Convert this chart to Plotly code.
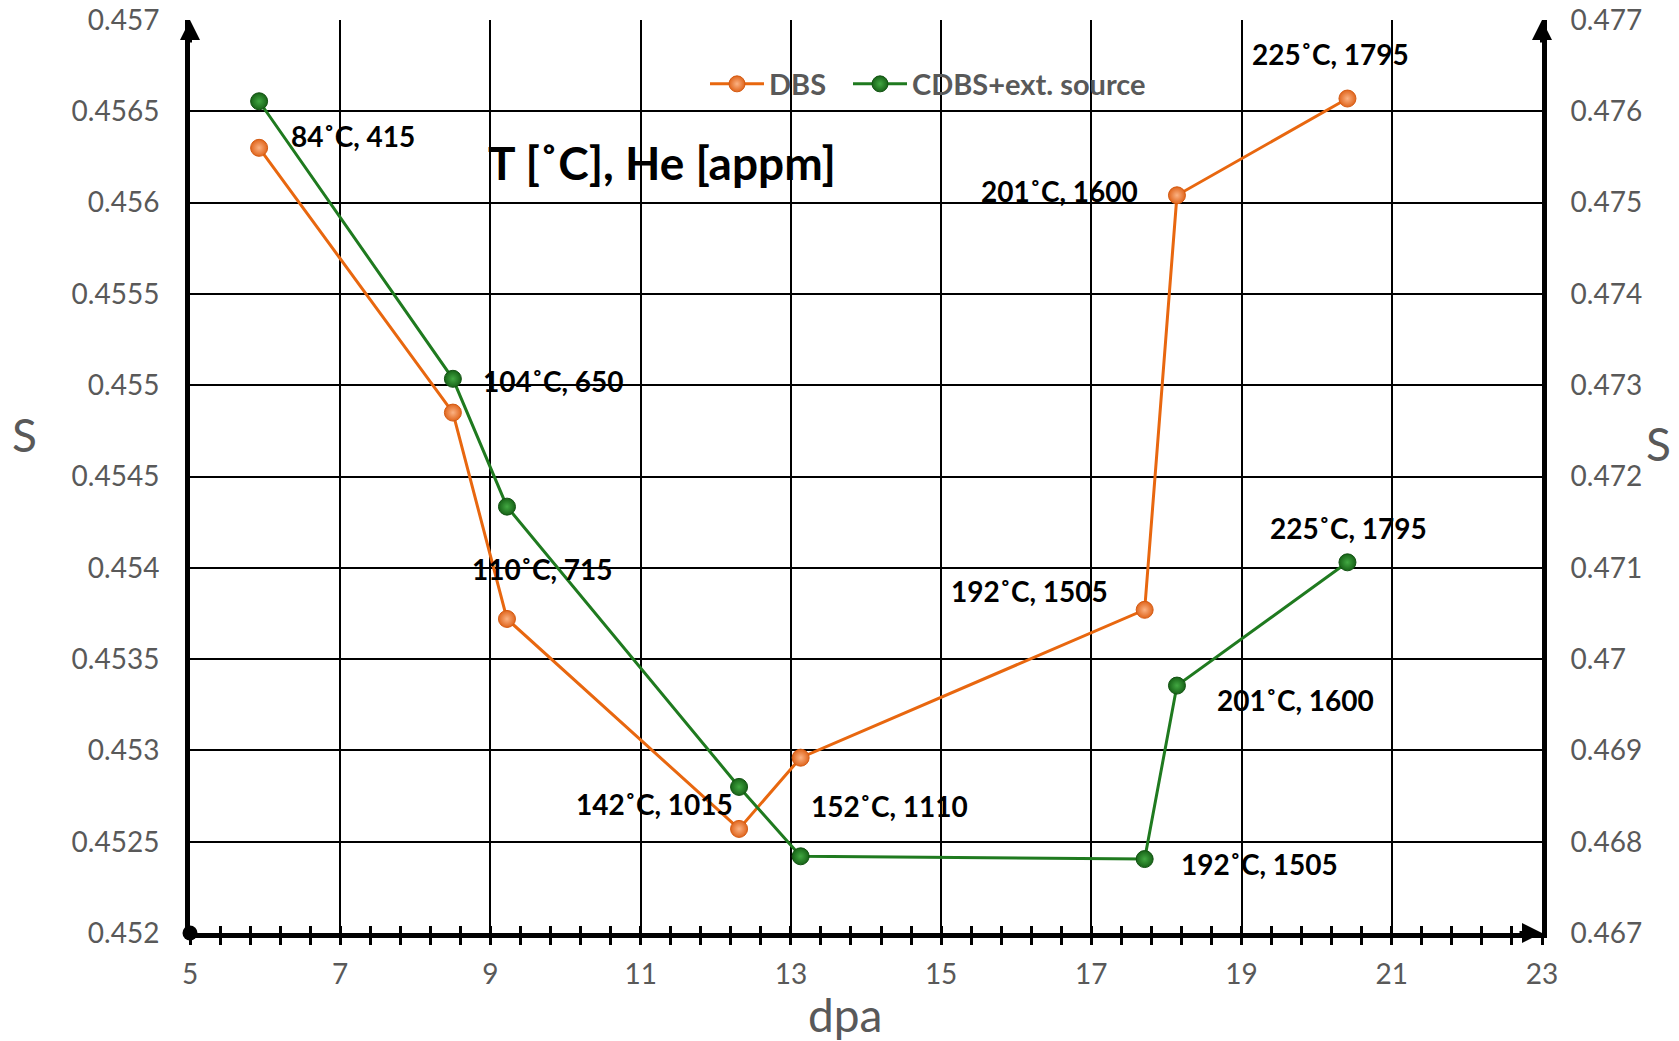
import plotly.graph_objects as go

# ---------------- data ----------------
dpa = [5.92, 8.50, 9.22, 12.31, 13.13, 17.71, 18.14, 20.41]
s_dbs = [0.45630, 0.45485, 0.45372, 0.45257, 0.45296, 0.45377, 0.45604, 0.45657]
s_cdbs = [0.47611, 0.47307, 0.47167, 0.46860, 0.46784, 0.46781, 0.46971, 0.47106]
temp_c = [84, 104, 110, 142, 152, 192, 201, 225]
he_appm = [415, 650, 715, 1015, 1110, 1505, 1600, 1795]
series_names = ["DBS", "CDBS+ext. source"]

# label placement: (series, point index, xanchor, xshift px, yshift px)
label_place = [
    ("cdbs", 0, "left", 30, -35),
    ("cdbs", 1, "left", 28, -2),
    ("dbs", 2, "left", -37, 50),
    ("dbs", 3, "right", -4, 25),
    ("cdbs", 4, "left", 8, 50),
    ("dbs", 5, "right", -35, 19),
    ("dbs", 6, "right", -37, 4),
    ("dbs", 7, "center", -17, 45),
    ("cdbs", 7, "center", 1, 34),
    ("cdbs", 6, "left", 38, -14),
    ("cdbs", 5, "left", 34, -5),
]

W, H = 1679, 1041
L, R, T, B = 190, 137, 20, 108
FONT = "Lato"
GREY = "#595959"

fig = go.Figure()
fig.add_trace(go.Scatter(
    x=dpa, y=s_dbs, name=series_names[0], mode="lines+markers", yaxis="y", legend="legend",
    line=dict(color="#E8670F", width=3),
    marker=dict(size=17, color="#E0651C", line=dict(color="#D45A12", width=1),
                gradient=dict(type="radial", color="#FBB283")),
))
fig.add_trace(go.Scatter(
    x=dpa, y=s_cdbs, name=series_names[1], mode="lines+markers", yaxis="y2", legend="legend2",
    line=dict(color="#1F7A1F", width=3),
    marker=dict(size=17, color="#176317", line=dict(color="#125212", width=1),
                gradient=dict(type="radial", color="#42A842")),
))
# helper (empty) trace for the inner half of the crossing x ticks
fig.add_trace(go.Scatter(x=[], y=[], xaxis="x2", yaxis="y", showlegend=False, hoverinfo="skip"))

annotations = []
for (ser, i, xa, xs, ys) in label_place:
    yv = s_dbs[i] if ser == "dbs" else s_cdbs[i]
    annotations.append(dict(
        x=dpa[i], y=yv, xref="x", yref="y" if ser == "dbs" else "y2",
        text=f"{temp_c[i]}˚C, {he_appm[i]}", showarrow=False,
        xanchor=xa, yanchor="middle", xshift=xs, yshift=ys,
        font=dict(family=FONT, size=28, color="black", weight="bold"),
    ))

pw, ph = W - L - R, H - T - B
# chart inner title
annotations.append(dict(
    x=(486 - L) / pw, y=1 - (163 - T) / ph, xref="paper", yref="paper",
    text="T [˚C], He [appm]", showarrow=False, xanchor="left", yanchor="middle",
    font=dict(family=FONT, size=46, color="black", weight="bold"),
))
# axis titles
annotations.append(dict(x=(24 - L) / pw, y=1 - (434 - T) / ph, xref="paper", yref="paper",
                        text="S", showarrow=False, xanchor="center", yanchor="middle",
                        font=dict(family=FONT, size=46, color=GREY)))
annotations.append(dict(x=(1658 - L) / pw, y=1 - (443 - T) / ph, xref="paper", yref="paper",
                        text="S", showarrow=False, xanchor="center", yanchor="middle",
                        font=dict(family=FONT, size=46, color=GREY)))
annotations.append(dict(x=(845 - L) / pw, y=1 - (1014 - T) / ph, xref="paper", yref="paper",
                        text="dpa", showarrow=False, xanchor="center", yanchor="middle",
                        font=dict(family=FONT, size=46, color=GREY)))
# axis arrows
for (xp, yp, axp, ayp) in [(0, 1, 0, 24), (1, 1, 0, 24), (1, 0, -24, 0)]:
    annotations.append(dict(x=xp, y=yp, xref="paper", yref="paper", text="", showarrow=True,
                            ax=axp, ay=ayp, arrowhead=2, arrowsize=1, arrowwidth=4,
                            arrowcolor="black", standoff=0))

shapes = [dict(type="circle", xref="paper", yref="paper", xsizemode="pixel", ysizemode="pixel",
               xanchor=0, yanchor=0, x0=-7.5, x1=7.5, y0=-7.5, y1=7.5,
               fillcolor="black", line=dict(width=0), layer="above")]

legend_style = dict(orientation="h", y=1 - (84 - T) / ph, xanchor="left", yanchor="middle",
                    bgcolor="rgba(0,0,0,0)", itemwidth=54,
                    font=dict(family=FONT, size=29, color=GREY, weight="bold"))

fig.update_layout(
    width=W, height=H,
    margin=dict(l=L, r=R, t=T, b=B, autoexpand=False),
    paper_bgcolor="white", plot_bgcolor="white",
    font=dict(family=FONT, color=GREY, size=28),
    showlegend=True,
    legend=dict(x=(705 - L) / pw, **legend_style),
    legend2=dict(x=(848 - L) / pw, **legend_style),
    xaxis=dict(range=[5, 23], tick0=5, dtick=2, showgrid=True, gridcolor="black", gridwidth=2,
               showline=True, linecolor="black", linewidth=5, zeroline=False,
               ticks="outside", ticklen=7, tickwidth=3, tickcolor="black",
               minor=dict(tick0=5, dtick=0.4, ticks="outside", ticklen=7, tickwidth=3,
                          tickcolor="black", showgrid=False),
               tickfont=dict(family=FONT, size=28, color=GREY), ticklabelstandoff=5),
    xaxis2=dict(range=[5, 23], overlaying="x", anchor="y", side="bottom", showgrid=False,
                showline=False, zeroline=False, ticks="inside", tick0=5, dtick=0.4,
                ticklen=7, tickwidth=3, tickcolor="black", showticklabels=False),
    yaxis=dict(range=[0.452, 0.457], tick0=0.452, dtick=0.0005, tickformat=".4~f",
               showgrid=True, gridcolor="black", gridwidth=2,
               showline=True, linecolor="black", linewidth=5, zeroline=False, ticks="",
               tickfont=dict(family=FONT, size=28, color=GREY), ticklabelstandoff=20),
    yaxis2=dict(range=[0.467, 0.477], tick0=0.467, dtick=0.001, tickformat=".3~f",
                overlaying="y", side="right", anchor="x", showgrid=False,
                showline=True, linecolor="black", linewidth=5, zeroline=False, ticks="",
                tickfont=dict(family=FONT, size=28, color=GREY), ticklabelstandoff=18),
    annotations=annotations,
    shapes=shapes,
)

fig.write_html("out.html")
